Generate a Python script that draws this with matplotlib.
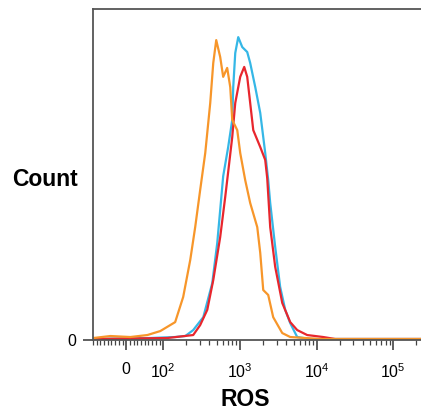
import matplotlib
matplotlib.use('Agg')
import matplotlib.pyplot as plt
import numpy as np

plt.rcParams['font.family'] = ['Liberation Sans', 'DejaVu Sans']
plt.rcParams['mathtext.fontset'] = 'custom'
plt.rcParams['mathtext.rm'] = 'Liberation Sans'

# ROS intensity vs. relative count (% of axis height)
orange_ros = [-89, -43, 11, 57, 92, 143, 182, 225, 261, 303, 353, 410, 449, 491, 553, 605,
              682, 748, 794, 923, 1009, 1172, 1361, 1683, 1841, 2014, 2339, 2716, 3565,
              4529, 11140, 229000]
orange_count = [0.6, 1.2, 0.9, 1.5, 2.7, 5.4, 13.0, 24.2, 34.1, 45.3, 56.5, 71.6, 83.7, 90.6,
                85.5, 79.5, 82.2, 76.4, 66.5, 63.4, 56.5, 48.3, 41.4, 34.1, 26.3, 15.1, 13.6,
                6.9, 2.1, 0.9, 0.3, 0.3]

blue_ros = [-89, 65, 143, 194, 246, 333, 436, 506, 553, 605, 703, 794, 818, 869, 951, 1072,
            1245, 1361, 1585, 1841, 2138, 2339, 2483, 2884, 3350, 3899, 4529, 5585, 8260, 229000]
blue_count = [0.3, 0.6, 0.9, 1.2, 3.0, 6.9, 17.2, 29.3, 39.3, 49.5, 58.3, 66.5, 76.4, 86.7,
              91.5, 88.5, 87.0, 83.7, 76.4, 68.6, 56.5, 48.3, 41.4, 28.1, 16.0, 9.1, 5.1, 0.9,
              0.3, 0.3]

red_ros = [-89, 113, 246, 303, 375, 449, 553, 643, 703, 794, 869, 1009, 1138, 1245, 1361, 1493,
           1841, 2138, 2270, 2483, 2884, 3565, 4529, 5585, 7534, 12190, 17500, 229000]
red_count = [0.3, 0.6, 1.5, 4.5, 9.1, 18.1, 31.1, 43.2, 50.8, 61.3, 71.6, 79.5, 82.5, 79.5,
             71.6, 63.4, 58.3, 54.4, 48.9, 34.1, 22.1, 11.2, 5.4, 3.0, 1.5, 0.9, 0.3, 0.3]

x_ticks = [0, 100, 1000, 10000, 100000]
x_tick_labels = ['0', r'$\mathregular{10^{2}}$', r'$\mathregular{10^{3}}$',
                 r'$\mathregular{10^{4}}$', r'$\mathregular{10^{5}}$']

fig = plt.figure(figsize=(4.21, 4.13), dpi=100)
ax = fig.add_axes([93 / 421, 73 / 413, 328 / 421, 331 / 413])

ax.plot(blue_ros, blue_count, color='#35B7E6', lw=1.6)
ax.plot(red_ros, red_count, color='#E8262D', lw=1.6)
ax.plot(orange_ros, orange_count, color='#F7962A', lw=1.6)

ax.set_xscale('symlog', linthresh=100, linscale=0.434)
ax.set_xlim(-90, 2.3e5)
ax.set_ylim(0, 100)

# minor ticks like a flow cytometry axis
minor = [-m * 10 for m in range(1, 10)] + [m * 10 for m in range(1, 10)]
for dec in [100, 1000, 10000]:
    minor += [m * dec for m in range(2, 10)]
minor += [200000]
ax.set_xticks(x_ticks)
ax.set_xticklabels(x_tick_labels, fontsize=11.5)
ax.set_xticks(minor, minor=True)
ax.tick_params(axis='x', which='major', length=7, width=1.2, color='#444444', pad=9)
ax.tick_params(axis='x', which='minor', length=3.5, width=0.9, color='#444444')

ax.set_yticks([0])
ax.set_yticklabels(['0'], fontsize=11.5)
ax.tick_params(axis='y', which='major', length=7, width=1.2, color='#444444', pad=5)
ax.yaxis.set_minor_locator(matplotlib.ticker.NullLocator())

for side in ['left', 'top', 'bottom']:
    ax.spines[side].set_color('#555555')
    ax.spines[side].set_linewidth(1.3)
ax.spines['right'].set_visible(False)

fig.text(45 / 421, 1 - 180 / 413, 'Count', fontsize=16.5, fontweight='bold',
         ha='center', va='center')
fig.text(245 / 421, 1 - 400 / 413, 'ROS', fontsize=16.5, fontweight='bold',
         ha='center', va='center')

fig.savefig('out.png', dpi=100)
